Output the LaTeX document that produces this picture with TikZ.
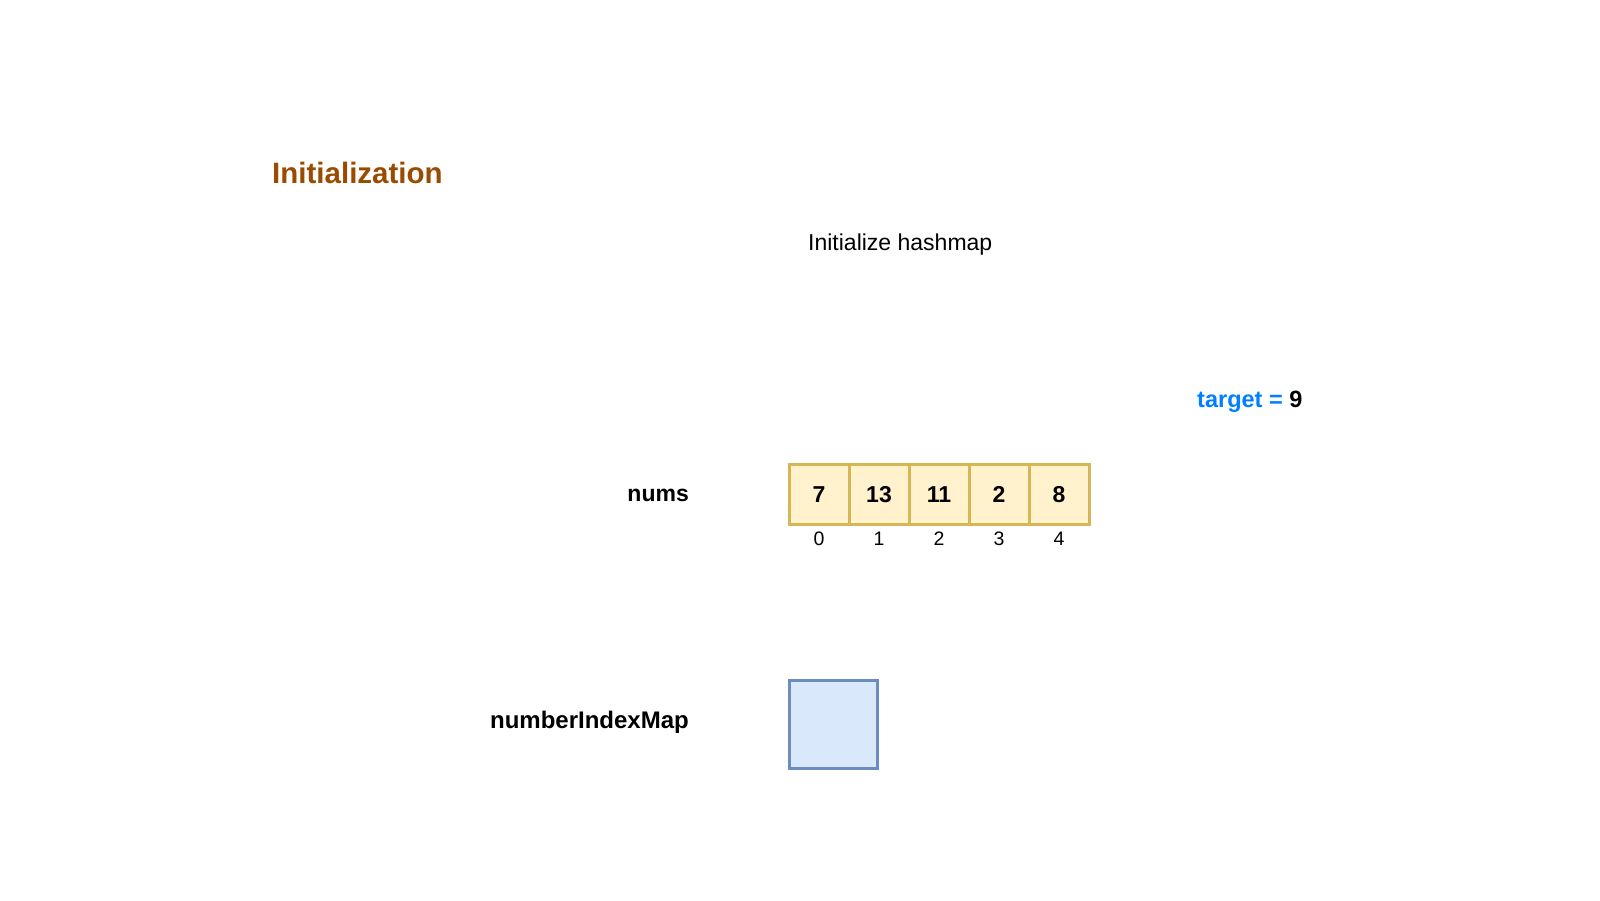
\documentclass[tikz,border=0pt]{standalone}
\usepackage{fontspec}
\setmainfont{Liberation Sans}
\definecolor{titlebrown}{HTML}{994C00}
\definecolor{tblue}{HTML}{007FFF}
\definecolor{cellfill}{HTML}{FFF2CC}
\definecolor{celldraw}{HTML}{D6B656}
\definecolor{mapfill}{HTML}{DAE8FC}
\definecolor{mapdraw}{HTML}{6C8EBF}
\tikzset{
  cell/.style={draw=celldraw, fill=cellfill, line width=3pt, minimum width=60pt, minimum height=60pt, inner sep=0pt},
  cellnum/.style={anchor=base, inner sep=0pt, font=\fontsize{23}{26}\selectfont\bfseries},
  idx/.style={anchor=base, inner sep=0pt, font=\fontsize{19.5}{22}\selectfont},
  lbl/.style={inner sep=0pt, font=\fontsize{23.5}{27}\selectfont\bfseries},
  mapbox/.style={draw=mapdraw, fill=mapfill, line width=3pt, minimum width=88pt, minimum height=88pt, inner sep=0pt},
}
\begin{document}
\begin{tikzpicture}[x=1pt,y=-1pt]
\useasboundingbox (0,0) rectangle (1600,900);
\node[anchor=base west, inner sep=0pt, text=titlebrown, font=\fontsize{29.5}{33}\selectfont\bfseries] (title) at (272,183) {Initialization};
\node[anchor=base west, inner sep=0pt, font=\fontsize{23}{26}\selectfont] (step) at (808,250) {Initialize hashmap};
\node[anchor=base west, lbl] (target) at (1197,407) {\textcolor{tblue}{target =} 9};
\node[anchor=base east, lbl, font=\fontsize{23}{26}\selectfont\bfseries] (nums) at (689,501) {nums};
\node[anchor=base east, lbl, font=\fontsize{24}{27}\selectfont\bfseries] (maplbl) at (689,728) {numberIndexMap};
\foreach \v [count=\i from 0] in {7,13,11,2,8} {
  \node[cell] (c\i) at (819+60*\i,494) {};
  \node[cellnum] (n\i) at (819+60*\i,502) {\v};
  \node[idx] (i\i) at (819+60*\i,545) {\i};
}
\node[mapbox] (map) at (833.5,724) {};
\end{tikzpicture}
\end{document}
